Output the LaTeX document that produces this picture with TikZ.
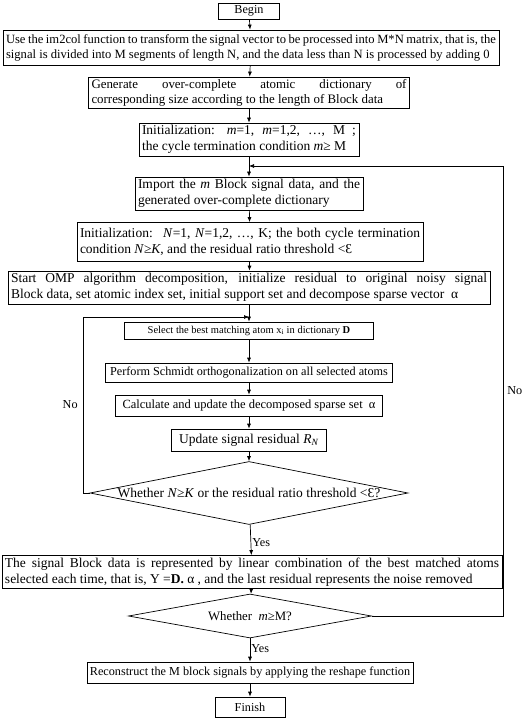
\documentclass[tikz,border=0pt]{standalone}
\usepackage{fontspec}
\setmainfont{Liberation Serif}
\usetikzlibrary{arrows.meta,shapes.geometric}
\hyphenpenalty=10000
\exhyphenpenalty=10000
\tikzset{
    box/.style={draw, line width=0.7pt, inner xsep=3pt, inner ysep=1pt, align=center},
    jbox/.style={box, align=justify},
    decision/.style={draw, line width=0.7pt, diamond, inner sep=0pt},
    arr/.style={-{Latex[length=5pt,width=4pt]}, line width=0.7pt},
    big/.style={font=\fontsize{13.5}{15.5}\selectfont},
    mid/.style={font=\fontsize{12.2}{14}\selectfont},
    small/.style={font=\fontsize{10.5}{12}\selectfont},
}
\begin{document}
\begin{tikzpicture}[x=1pt,y=-1pt]
    \useasboundingbox (0,0) rectangle (526,719);
        \node[box, mid, minimum width=61pt, minimum height=16pt] (begin) at (249,11) {Begin};
        \node[jbox, font=\fontsize{12.6}{15}\selectfont, text width=490pt, minimum height=35pt] (prep) at (251,47.5) {Use the im2col function to transform the signal vector to be processed into M*N matrix, that is, the\linebreak signal is divided into M segments of length N, and the data less than N is processed by adding 0};
        \node[jbox, font=\fontsize{12.9}{15}\selectfont, text width=315pt, minimum height=31pt] (dict) at (249,92.5) {Generate over-complete atomic dictionary of\linebreak corresponding size according to the length of Block data};
        \node[jbox, big, text width=214pt, minimum height=33pt] (initm) at (249,139.5) {Initialization: \textit{m}=1, \textit{m}=1,2, …, M ;\linebreak the cycle termination condition \textit{m}≥ M};
        \node[jbox, big, text width=222pt, minimum height=33pt] (import) at (249,193.5) {Import the \textit{m} Block signal data, and the\linebreak generated over-complete dictionary};
        \node[jbox, big, text width=340pt, minimum height=39pt] (initn) at (250,242) {Initialization:~ \textit{N}=1, \textit{N}=1,2, …, K; the both cycle termination\linebreak condition \textit{N}≥\textit{K}, and the residual ratio threshold <Ɛ};
        \node[jbox, big, text width=476pt, minimum height=33pt] (omp) at (249,287.5) {Start OMP algorithm decomposition, initialize residual to original noisy signal\linebreak Block data, set atomic index set, initial support set and decompose sparse vector~ α};
        \node[box, small, minimum width=249pt, minimum height=17pt] (select) at (249,330.5) {Select the best matching atom x\textsubscript{i} in dictionary \textbf{D}};
        \node[box, mid, minimum width=287pt, minimum height=19pt] (schmidt) at (249,372.5) {Perform Schmidt orthogonalization on all selected atoms};
        \node[box, font=\fontsize{12.5}{14}\selectfont, minimum width=267pt, minimum height=21pt] (calc) at (249,405.5) {Calculate and update the decomposed sparse set~ α};
        \node[box, big, minimum width=155pt, minimum height=22pt] (update) at (249,440) {Update signal residual \textit{R}\textsubscript{\textit{N}}};
        \node[decision, minimum width=318pt, minimum height=63pt,
            label={[big]center:Whether \textit{N}≥\textit{K} or the residual ratio threshold <Ɛ?}] (dec1) at (249,493) {};
        \node[jbox, big, text width=494pt, minimum height=33pt] (signal) at (252,572) {The signal Block data is represented by linear combination of the best matched atoms\linebreak selected each time, that is, Y =\textbf{D.} α , and the last residual represents the noise removed};
        \node[decision, minimum width=243pt, minimum height=44pt,
            label={[font=\fontsize{12.8}{14}\selectfont]center:Whether~ \textit{m}≥M?}] (dec2) at (250,616) {};
        \node[box, mid, minimum width=326pt, minimum height=21pt] (recon) at (250,672.5) {Reconstruct the M block signals by applying the reshape function};
        \node[box, mid, minimum width=70pt, minimum height=20pt] (finish) at (250,707) {Finish};
        \coordinate (join1) at (249,166);
        \coordinate (join2) at (249,317);
        \coordinate (rback) at (503,166);
        \coordinate (lback) at (83,317);
        \draw[arr] (begin) -- (prep);
        \draw[arr] (prep) -- (dict);
        \draw[arr] (dict) -- (initm);
        \draw[arr] (initm) -- (import);
        \draw[arr] (import) -- (initn);
        \draw[arr] (initn) -- (omp);
        \draw[arr] (omp) -- (select);
        \draw[arr] (select) -- (schmidt);
        \draw[arr] (schmidt) -- (calc);
        \draw[arr] (calc) -- (update);
        \draw[arr] (update) -- (dec1);
        \draw[arr] (dec1) -- node[pos=0.6, right, mid, inner sep=1pt] {Yes} (signal);
        \draw[arr] (signal) -- (dec2);
        \draw[arr] (dec2) -- node[pos=0.45, right, mid, inner sep=1pt] {Yes} (recon);
        \draw[arr] (recon) -- (finish);
        \draw[arr] (dec1.west) -| node[pos=0.75, left, mid, inner sep=5pt] {No} (lback) -- (join2);
        \draw[arr] (dec2.east) -| node[pos=0.75, right, mid, inner sep=4pt] {No} (rback) -- (join1);
\end{tikzpicture}
\end{document}
